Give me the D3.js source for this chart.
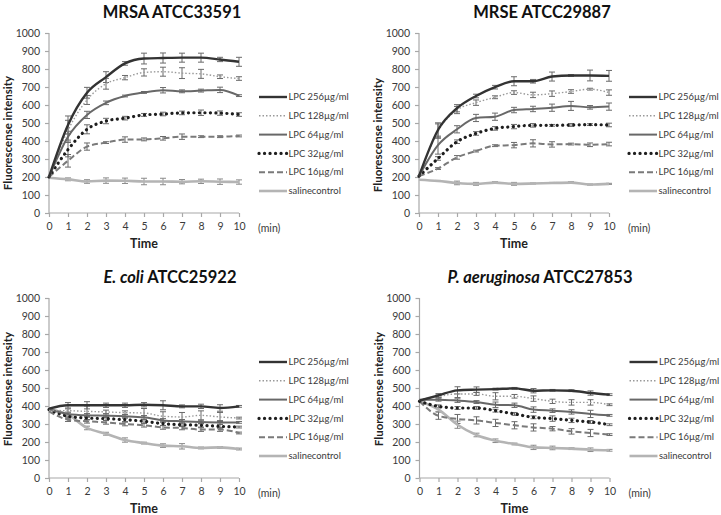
<!DOCTYPE html>
<html><head><meta charset="utf-8">
<script src="https://cdn.jsdelivr.net/npm/d3@7"></script>
<style>body{margin:0;background:#fff}svg{display:block}</style>
</head><body>
<svg id="c" width="721" height="515"></svg>
<script>
// ---------- data ----------
const times = [0,1,2,3,4,5,6,7,8,9,10];
const seriesLabels = ["LPC 256µg/ml","LPC 128µg/ml","LPC 64µg/ml","LPC 32µg/ml","LPC 16µg/ml","salinecontrol"];
const yTicks = [0,100,200,300,400,500,600,700,800,900,1000];
const panelTitles = [
  [{t:"MRSA ATCC33591",i:false}],
  [{t:"MRSE ATCC29887",i:false}],
  [{t:"E. coli",i:true},{t:" ATCC25922",i:false}],
  [{t:"P. aeruginosa",i:true},{t:" ATCC27853",i:false}]
];
// MRSA ATCC33591
const mrsaMeans = [
  [200,489,668,755,831,858,861,863,863,853,840],
  [200,460,628,718,752,781,785,777,773,757,747],
  [200,424,545,612,650,670,682,676,680,684,652],
  [200,352,465,511,527,545,550,556,557,555,547],
  [200,290,369,391,408,409,415,424,424,424,428],
  [196,187,175,180,179,175,175,174,176,174,172]
];
const mrsaErrors = [
  [0,50,30,30,10,30,28,25,25,12,25],
  [0,55,25,30,12,20,25,30,25,10,10],
  [0,30,20,10,5,5,15,8,8,15,5],
  [0,40,25,15,10,8,10,10,15,12,10],
  [0,35,20,5,15,8,10,15,5,5,5],
  [0,8,10,15,15,18,18,12,12,15,12]
];
// MRSE ATCC29887
const mrseMeans = [
  [205,461,582,650,699,732,732,758,764,764,762],
  [205,455,572,613,643,669,656,663,675,688,669],
  [205,377,465,528,535,572,578,585,595,587,591],
  [205,303,396,442,470,480,487,487,489,491,489],
  [205,247,309,344,374,377,387,381,383,379,383],
  [185,178,167,162,169,162,164,167,169,158,162]
];
const mrseErrors = [
  [0,40,20,10,10,25,10,25,5,30,30],
  [0,40,20,15,8,10,15,15,10,5,15],
  [0,50,20,20,20,15,15,20,25,10,20],
  [0,10,10,10,10,12,10,5,8,5,10],
  [0,5,10,5,5,15,20,15,5,10,10],
  [0,3,10,8,5,8,3,3,5,3,3]
];
// E. coli ATCC25922
const ecoliMeans = [
  [385,404,404,404,404,407,404,398,398,389,398],
  [375,374,370,367,363,361,343,339,348,339,333],
  [385,356,348,346,343,337,320,315,311,309,309],
  [380,343,333,330,324,315,302,296,293,287,283],
  [370,324,315,309,300,293,281,278,269,269,250],
  [380,352,278,246,211,194,180,176,167,170,161]
];
const ecoliErrors = [
  [15,15,20,12,12,12,25,8,12,18,5],
  [10,10,30,10,10,25,25,25,25,25,5],
  [10,10,10,10,10,10,10,10,10,10,5],
  [10,10,10,10,10,10,10,10,10,10,5],
  [10,10,10,10,10,10,10,10,10,10,5],
  [10,10,10,8,12,5,10,15,5,5,5]
];
// P. aeruginosa ATCC27853
const paerMeans = [
  [430,459,487,491,494,498,485,487,485,472,463],
  [435,454,467,467,454,454,441,426,420,420,407],
  [435,435,430,422,407,404,380,374,367,356,348],
  [426,398,389,389,374,356,337,330,320,311,296],
  [426,346,328,320,306,293,281,274,259,250,241],
  [426,380,296,239,207,189,170,167,163,157,154]
];
const paerErrors = [
  [10,10,20,15,5,5,12,5,5,12,5],
  [10,8,20,8,20,10,15,12,15,15,5],
  [10,8,10,8,15,12,15,10,12,20,5],
  [10,8,8,8,8,8,8,15,12,8,5],
  [10,20,25,20,20,20,20,12,15,20,5],
  [10,10,20,10,10,5,12,10,5,10,5]
];

// ---------- styles ----------
const styles = [
  {c:"#333333", w:2.4, d:null, cap:"butt"},
  {c:"#9a9a9a", w:1.4, d:"1.5,2", cap:"butt"},
  {c:"#686868", w:2.0, d:null, cap:"butt"},
  {c:"#1e1e1e", w:3.2, d:"0.1,5.4", cap:"round"},
  {c:"#7a7a7a", w:2.0, d:"6,3", cap:"butt"},
  {c:"#b4b4b4", w:2.6, d:null, cap:"butt"}
];
const panels = [
  {left:49, top:33, means:mrsaMeans, errs:mrsaErrors, title:panelTitles[0], tx:172, ty:18, ylab:100},
  {left:419, top:33, means:mrseMeans, errs:mrseErrors, title:panelTitles[1], tx:542, ty:18, ylab:102},
  {left:49, top:298, means:ecoliMeans, errs:ecoliErrors, title:panelTitles[2], tx:170, ty:283, ylab:91},
  {left:419.5, top:298, means:paerMeans, errs:paerErrors, title:panelTitles[3], tx:540, ty:283, ylab:91}
];
const W = 190, H = 180;
const font = "Lato, 'Liberation Sans', sans-serif";
const svg = d3.select("#c");

panels.forEach(p => {
  const g = svg.append("g").attr("transform", `translate(${p.left},${p.top})`);
  const x = d3.scaleLinear().domain([0,10]).range([0,W]);
  const y = d3.scaleLinear().domain([0,1000]).range([H,0]);

  // axes
  const ya = g.append("g").call(d3.axisLeft(y).tickValues(yTicks).tickFormat(d3.format("d")).tickSize(4).tickPadding(5));
  const xa = g.append("g").attr("transform",`translate(0,${H})`)
     .call(d3.axisBottom(x).tickValues(times).tickFormat(d3.format("d")).tickSize(4).tickPadding(6));
  [ya,xa].forEach(a=>{
    a.selectAll("path,line").attr("stroke","#a8a8a8").attr("stroke-width",1.2);
    a.selectAll("text").attr("fill","#3a3a3a").style("font-family",font).style("font-size","10.5px");
  });
  ya.select(".domain").attr("d",`M0,${H}V0`);
  xa.select(".domain").attr("d",`M0,0H${W}`);

  // error bars
  p.means.forEach((s,si)=>{
    const eb = g.append("g");
    s.forEach((v,i)=>{
      const e = p.errs[si][i];
      if (!e || i===0) return;
      const xx = x(times[i]);
      eb.append("path")
        .attr("d",`M${xx},${y(v-e)}V${y(v+e)}M${xx-3},${y(v-e)}H${xx+3}M${xx-3},${y(v+e)}H${xx+3}`)
        .attr("stroke", si===5 ? "#8a8a8a" : "#6a6a6a").attr("stroke-width",1).attr("fill","none");
    });
  });
  // lines
  const line = d3.line().x((d,i)=>x(times[i])).y(d=>y(d)).curve(d3.curveMonotoneX);
  p.means.slice().reverse().forEach((s,ri)=>{
    const si = 5-ri;
    const st = styles[si];
    g.append("path").datum(s).attr("d",line).attr("fill","none")
      .attr("stroke",st.c).attr("stroke-width",st.w)
      .attr("stroke-dasharray",st.d).attr("stroke-linecap",st.cap);
  });

  // legend
  const lg = g.append("g");
  seriesLabels.forEach((lab,i)=>{
    const yy = 64 + i*18.8;
    const st = styles[i];
    lg.append("line").attr("x1",210).attr("x2",238).attr("y1",yy).attr("y2",yy)
      .attr("stroke",st.c).attr("stroke-width",st.w).attr("stroke-dasharray",st.d).attr("stroke-linecap",st.cap);
    lg.append("text").attr("x",239.5).attr("y",yy).attr("dy","0.35em").text(lab)
      .attr("fill","#3a3a3a").style("font-family",font).style("font-size","9.4px");
  });

  // (min), Time, y label
  g.append("text").attr("x",209).attr("y",H+19).text("(min)")
    .attr("fill","#3a3a3a").style("font-family",font).style("font-size","10.5px");
  g.append("text").attr("x",W/2).attr("y",H+35).attr("text-anchor","middle").text("Time")
    .attr("fill","#222").style("font-family",font).style("font-size","12.5px").style("font-weight","bold");
  g.append("text").attr("transform",`translate(-37,${p.ylab}) rotate(-90)`).attr("text-anchor","middle")
    .text("Fluorescense intensity")
    .attr("fill","#222").style("font-family",font).style("font-size","11.5px").style("font-weight","bold");

  // title
  const t = svg.append("text").attr("x",p.tx).attr("y",p.ty).attr("text-anchor","middle")
    .attr("fill","#111").style("font-family",font).style("font-size","16.5px").style("font-weight","bold");
  p.title.forEach(part=>{
    t.append("tspan").text(part.t).style("font-style", part.i ? "italic" : "normal");
  });
});
</script>
</body></html>
